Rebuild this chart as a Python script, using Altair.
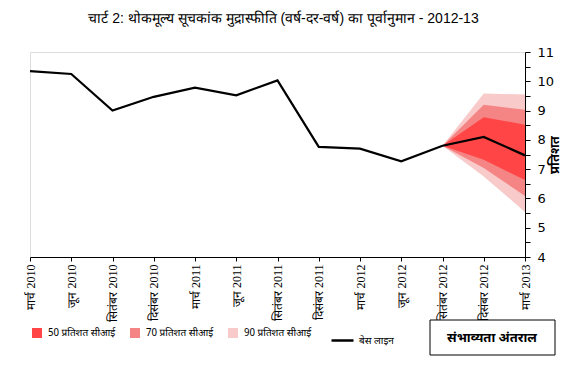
import altair as alt
import pandas as pd

months = ["मार्च 2010", "जून 2010", "सितंबर 2010", "दिसंबर 2010", "मार्च 2011", "जून 2011",
          "सितंबर 2011", "दिसंबर 2011", "मार्च 2012", "जून 2012", "सितंबर 2012", "दिसंबर 2012", "मार्च 2013"]
baseline = [10.35, 10.25, 9.0, 9.47, 9.78, 9.52, 10.03, 7.76, 7.7, 7.27, 7.8, 8.1, 7.47]

fan_months = ["सितंबर 2012", "दिसंबर 2012", "मार्च 2013"]
upper90 = [7.8, 9.58, 9.55]
lower90 = [7.8, 6.75, 5.54]
upper70 = [7.8, 9.2, 9.03]
lower70 = [7.8, 7.04, 6.08]
upper50 = [7.8, 8.77, 8.52]
lower50 = [7.8, 7.32, 6.63]

band_names = ["50 प्रतिशत  सीआई", "70 प्रतिशत  सीआई", "90 प्रतिशत  सीआई"]
band_colors = ["#FF4545", "#F58585", "#F9CACA"]
line_name = "बेस लाइन"

title_text = "चार्ट 2: थोकमूल्य सूचकांक मुद्रास्फीति (वर्ष-दर-वर्ष) का पूर्वानुमान - 2012-13"
box_text = "संभाव्यता अंतराल"
y_title = "प्रतिशत"

DEV = "Noto Sans Devanagari, Noto Sans, sans-serif"

base_df = pd.DataFrame({"month": months, "value": baseline, "series": line_name})
rows = []
for name, lo, hi in [(band_names[2], lower90, upper90), (band_names[1], lower70, upper70), (band_names[0], lower50, upper50)]:
    for m, l, h in zip(fan_months, lo, hi):
        rows.append({"month": m, "lo": l, "hi": h, "band": name})
band_df = pd.DataFrame(rows)

x_enc = alt.X("month:N", scale=alt.Scale(type="point", domain=months, padding=0),
              axis=alt.Axis(title=None, labelAngle=270, labelFont="Liberation Serif", labelFontSize=12,
                            labelColor="black", domainColor="black", tickColor="black", tickSize=4,
                            labelPadding=3, labelFontWeight="normal"))

y_vals = [4 + 0.5 * i for i in range(15)]
y_axis = alt.Axis(orient="right", values=y_vals,
                  labelExpr="datum.value % 1 == 0 ? format(datum.value, 'd') : ''",
                  grid=False, domainColor="black", tickColor="black", tickSize=5, labelPadding=7,
                  labelFont="DejaVu Sans", labelFontSize=13, labelColor="black",
                  title=y_title, titleFont=DEV, titleFontSize=13, titleFontWeight="bold",
                  titleAngle=270, titlePadding=8, titleColor="black")
y_scale = alt.Scale(domain=[4, 11], nice=False, zero=False)

fill_scale = alt.Scale(domain=band_names, range=band_colors)
fill_legend = alt.Legend(title=None, orient="none", legendX=2, legendY=276, direction="horizontal",
                         symbolType="square", symbolSize=100, symbolStrokeWidth=0, labelFont=DEV,
                         labelFontSize=10, labelColor="black", columnPadding=12, padding=0,
                         symbolOpacity=1, labelOffset=6)

layers = []
for name in band_names[::-1]:
    layers.append(
        alt.Chart(band_df).transform_filter(alt.datum.band == name).mark_area(opacity=1).encode(
            x=x_enc,
            y=alt.Y("lo:Q", scale=y_scale, axis=y_axis, stack=None),
            y2="hi:Q",
            fill=alt.Fill("band:N", scale=fill_scale, legend=fill_legend),
        )
    )

line = alt.Chart(base_df).mark_line(strokeWidth=2.2).encode(
    x=x_enc,
    y=alt.Y("value:Q", scale=y_scale, axis=y_axis),
    stroke=alt.Stroke("series:N", scale=alt.Scale(domain=[line_name], range=["black"]),
                      legend=alt.Legend(title=None, orient="none", legendX=300, legendY=276,
                                        symbolType="stroke", symbolSize=484, symbolStrokeWidth=2.5,
                                        labelFont=DEV, labelFontSize=10, labelColor="black", padding=0)),
)

box = alt.Chart(pd.DataFrame({"t": [box_text]})).mark_rect(fill="white", stroke="black", strokeWidth=1).encode(
    x=alt.value(400), x2=alt.value(525), y=alt.value(268), y2=alt.value(303))
box_label = alt.Chart(pd.DataFrame({"t": [box_text]})).mark_text(font=DEV, fontSize=13, fontWeight="bold",
                                                                  color="black").encode(
    x=alt.value(462), y=alt.value(286), text="t:N")

chart = alt.layer(*layers, line, box, box_label).resolve_scale(y="shared").properties(
    width=495, height=205,
    autosize=alt.AutoSizeParams(type="none"),
    padding={"left": 22, "top": 44, "right": 42, "bottom": 102},
    title=alt.TitleParams(title_text, font="Liberation Sans", fontSize=14, fontWeight="normal",
                          color="black", anchor="middle", frame="group", dx=6, offset=20),
).configure_view(stroke="#999999", strokeWidth=1).configure(background="white")

chart.save("out.html", embed_options={"renderer": "svg", "actions": False})
